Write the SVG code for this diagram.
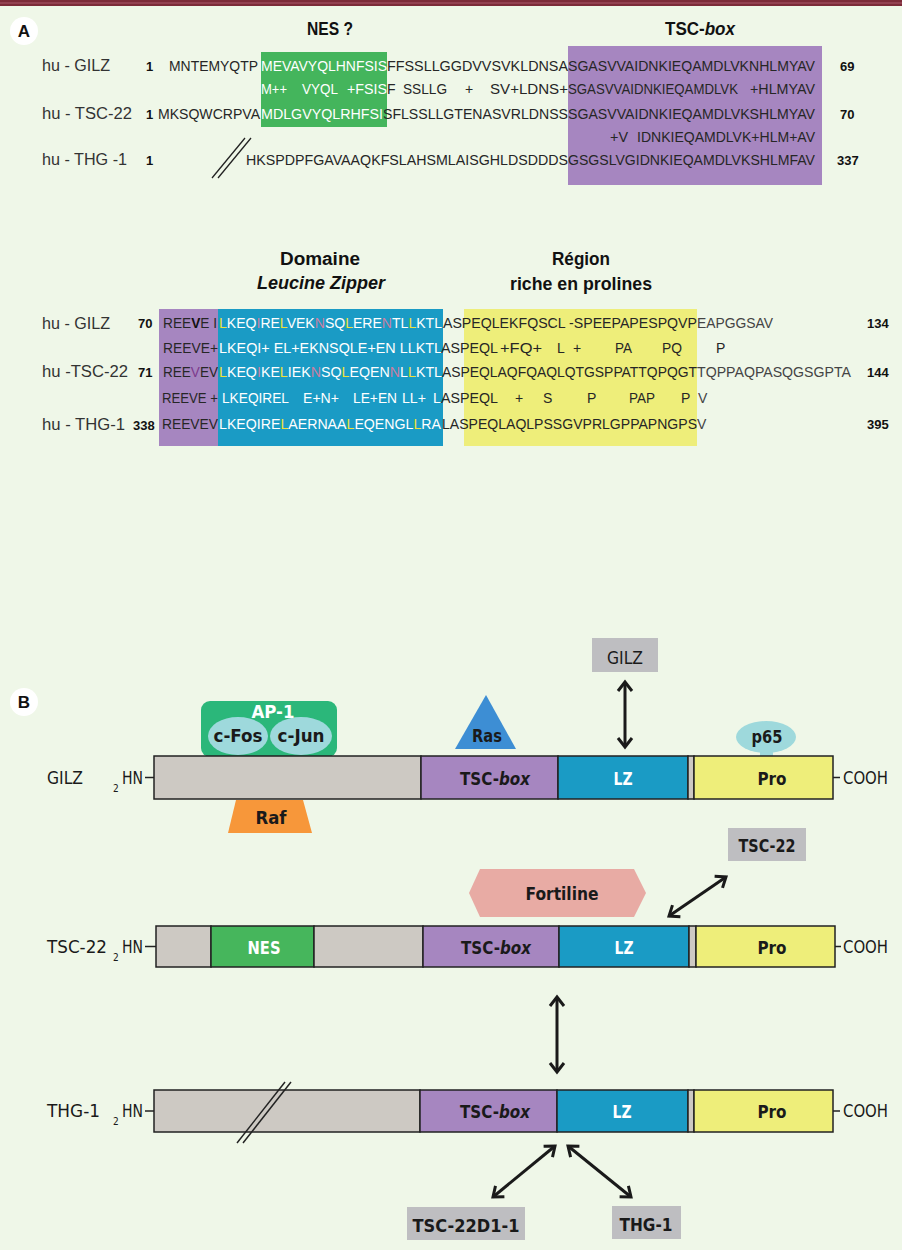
<svg xmlns="http://www.w3.org/2000/svg" width="902" height="1250" viewBox="0 0 902 1250">
<style>
.seq{font-family:'Liberation Sans',Arial,sans-serif;font-size:14px;fill:#262626}
.gy{fill:#444}
.w{fill:#fff}
.y{fill:#efe23a}
.p{fill:#c77fa2}
.num{font-family:'Liberation Sans',Arial,sans-serif;font-weight:bold;font-size:13px;fill:#111}
.lab{font-family:'Liberation Sans',Arial,sans-serif;font-size:16px;fill:#333}
.title{font-family:'Liberation Sans',Arial,sans-serif;font-weight:bold;font-size:18px;fill:#111;text-anchor:middle}
.bl{font-family:'Liberation Sans Narrow','DejaVu Sans Condensed',sans-serif;font-weight:bold;font-size:18px;fill:#1a1a1a;text-anchor:middle}
.rl{font-family:'Liberation Sans Narrow','DejaVu Sans Condensed',sans-serif;font-size:18px;fill:#1a1a1a}
.sub{font-family:'Liberation Sans Narrow','DejaVu Sans Condensed',sans-serif;font-size:10px;fill:#1a1a1a}
.seg{stroke:#222;stroke-width:1.5}
.g1{fill:#cdc9c3}.pu{fill:#a686c0}.bu{fill:#1a9bc5}.ye{fill:#eeee7a}.gr{fill:#46b65c}
.box{fill:#bebec1}
.arr{stroke:#1a1a1a;stroke-width:3;fill:none;marker-start:url(#ah);marker-end:url(#ah)}
.circ{fill:#fff}
.cl{font-family:'Liberation Sans',Arial,sans-serif;font-weight:bold;font-size:17px;fill:#111;text-anchor:middle}
</style>
<defs>
<marker id="ah" viewBox="0 0 12 16" refX="10" refY="8" markerWidth="12" markerHeight="16" markerUnits="userSpaceOnUse" orient="auto-start-reverse" overflow="visible">
<path d="M1,1 L10,8 L1,15" fill="none" stroke="#1a1a1a" stroke-width="3"/>
</marker>
</defs>
<rect x="0" y="0" width="902" height="1250" fill="#eff7e8"/>
<rect x="0" y="0" width="902" height="6" fill="#7c2b39"/>
<line x1="0" y1="3" x2="902" y2="3" stroke="#a9596a" stroke-width="1"/>

<!-- Panel A -->
<g id="panelA">
<circle class="circ" cx="24" cy="31" r="14"/>
<text class="cl" x="24" y="37">A</text>
<rect x="261" y="52" width="126" height="75" fill="#44b55c"/>
<rect x="568" y="46" width="254" height="139" fill="#a686c0"/>
<text class="title" x="330" y="35" textLength="46" lengthAdjust="spacingAndGlyphs">NES ?</text>
<text class="title" x="700" y="35" textLength="70" lengthAdjust="spacingAndGlyphs">TSC-<tspan font-style="italic">box</tspan></text>

<text class="lab" x="42" y="71" textLength="68" lengthAdjust="spacingAndGlyphs">hu - GILZ</text>
<text class="lab" x="42" y="118.5" textLength="90" lengthAdjust="spacingAndGlyphs">hu - TSC-22</text>
<text class="lab" x="42" y="165" textLength="85" lengthAdjust="spacingAndGlyphs">hu - THG -1</text>
<text class="num" x="146" y="71">1</text>
<text class="num" x="146" y="118.5">1</text>
<text class="num" x="146" y="165">1</text>
<text class="num" x="840" y="71">69</text>
<text class="num" x="840" y="118.5">70</text>
<text class="num" x="837" y="165">337</text>

<text class="seq" x="169" y="71" textLength="89" lengthAdjust="spacingAndGlyphs">MNTEMYQTP</text>
<text class="seq w" x="261" y="71" textLength="126" lengthAdjust="spacingAndGlyphs">MEVAVYQLHNFSIS</text>
<text class="seq" x="387" y="71" textLength="181" lengthAdjust="spacingAndGlyphs">FFSSLLGGDVVSVKLDNSA</text>
<text class="seq" x="568" y="71" textLength="247" lengthAdjust="spacingAndGlyphs">SGASVVAIDNKIEQAMDLVKNHLMYAV</text>

<text class="seq w" x="261" y="94" textLength="26" lengthAdjust="spacingAndGlyphs">M++</text>
<text class="seq w" x="302" y="94" textLength="36" lengthAdjust="spacingAndGlyphs">VYQL</text>
<text class="seq w" x="347" y="94" textLength="40" lengthAdjust="spacingAndGlyphs">+FSIS</text>
<text class="seq" x="387" y="94">F</text>
<text class="seq" x="403" y="94" textLength="44" lengthAdjust="spacingAndGlyphs">SSLLG</text>
<text class="seq" x="465" y="94">+</text>
<text class="seq" x="490" y="94" textLength="78" lengthAdjust="spacingAndGlyphs">SV+LDNS+</text>
<text class="seq" x="568" y="94" textLength="170" lengthAdjust="spacingAndGlyphs">SGASVVAIDNKIEQAMDLVK</text>
<text class="seq" x="750" y="94" textLength="65" lengthAdjust="spacingAndGlyphs">+HLMYAV</text>

<text class="seq" x="158" y="118.5" textLength="102" lengthAdjust="spacingAndGlyphs">MKSQWCRPVA</text>
<text class="seq w" x="261" y="118.5" textLength="122" lengthAdjust="spacingAndGlyphs">MDLGVYQLRHFSI</text>
<text class="seq" x="383" y="118.5" textLength="185" lengthAdjust="spacingAndGlyphs">SFLSSLLGTENASVRLDNSS</text>
<text class="seq" x="568" y="118.5" textLength="247" lengthAdjust="spacingAndGlyphs">SGASVVAIDNKIEQAMDLVKSHLMYAV</text>

<text class="seq" x="610" y="142" textLength="18" lengthAdjust="spacingAndGlyphs">+V</text>
<text class="seq" x="637" y="142" textLength="178" lengthAdjust="spacingAndGlyphs">IDNKIEQAMDLVK+HLM+AV</text>

<line x1="212" y1="178" x2="245" y2="138" stroke="#222" stroke-width="1.3"/>
<line x1="218" y1="178" x2="251" y2="138" stroke="#222" stroke-width="1.3"/>
<text class="seq" x="246" y="165" textLength="322" lengthAdjust="spacingAndGlyphs">HKSPDPFGAVAAQKFSLAHSMLAISGHLDSDDDS</text>
<text class="seq" x="568" y="165" textLength="247" lengthAdjust="spacingAndGlyphs">GSGSLVGIDNKIEQAMDLVKSHLMFAV</text>
</g>

<!-- Panel A, second block -->
<g id="panelA2">
<rect x="159" y="309" width="59" height="137" fill="#a686c0"/>
<rect x="218" y="309" width="225" height="137" fill="#1a9bc5"/>
<rect x="464" y="309" width="233" height="137" fill="#eeee7a"/>
<text class="title" x="320" y="265" textLength="80" lengthAdjust="spacingAndGlyphs">Domaine</text>
<text class="title" x="321" y="289" font-style="italic" textLength="128" lengthAdjust="spacingAndGlyphs">Leucine Zipper</text>
<text class="title" x="581" y="265" textLength="58" lengthAdjust="spacingAndGlyphs">Région</text>
<text class="title" x="581" y="290" textLength="142" lengthAdjust="spacingAndGlyphs">riche en prolines</text>

<text class="lab" x="42" y="329" textLength="68" lengthAdjust="spacingAndGlyphs">hu - GILZ</text>
<text class="lab" x="42" y="377" textLength="86" lengthAdjust="spacingAndGlyphs">hu -TSC-22</text>
<text class="lab" x="42" y="430" textLength="83" lengthAdjust="spacingAndGlyphs">hu - THG-1</text>
<text class="num" x="138" y="328">70</text>
<text class="num" x="138" y="377">71</text>
<text class="num" x="133" y="430">338</text>
<text class="num" x="867" y="328">134</text>
<text class="num" x="867" y="377">144</text>
<text class="num" x="867" y="429">395</text>

<!-- row 1 -->
<text class="seq" x="163" y="328" textLength="54" lengthAdjust="spacingAndGlyphs">REE<tspan font-weight="bold" fill="#111">V</tspan>E I</text>
<text class="seq w" x="219" y="328" textLength="223" lengthAdjust="spacingAndGlyphs"><tspan class="y">L</tspan>KEQ<tspan class="p">I</tspan>RE<tspan class="y">L</tspan>VEK<tspan class="p">N</tspan>SQ<tspan class="y">L</tspan>ERE<tspan class="p">N</tspan>TL<tspan class="y">L</tspan>KTL</text>
<text class="seq" x="443" y="328" textLength="254" lengthAdjust="spacingAndGlyphs">ASPEQLEKFQSCL -SPEEPAPESPQVP</text>
<text class="seq gy" x="697" y="328" textLength="76" lengthAdjust="spacingAndGlyphs">EAPGGSAV</text>
<!-- row 2 -->
<text class="seq" x="163" y="353" textLength="55" lengthAdjust="spacingAndGlyphs">REEVE+</text>
<text class="seq w" x="219" y="353" textLength="223" lengthAdjust="spacingAndGlyphs">LKEQI+ EL+EKNSQLE+EN LLKTL</text>
<text class="seq" x="441" y="353" textLength="57" lengthAdjust="spacingAndGlyphs">ASPEQL</text>
<text class="seq" x="500" y="353" textLength="42" lengthAdjust="spacingAndGlyphs">+FQ+</text>
<text class="seq" x="557" y="353">L</text>
<text class="seq" x="573" y="353">+</text>
<text class="seq" x="615" y="353" textLength="17" lengthAdjust="spacingAndGlyphs">PA</text>
<text class="seq" x="662" y="353" textLength="20" lengthAdjust="spacingAndGlyphs">PQ</text>
<text class="seq" x="716" y="353">P</text>
<!-- row 3 -->
<text class="seq" x="163" y="377" textLength="55" lengthAdjust="spacingAndGlyphs">REE<tspan fill="#7d3a8c">V</tspan>EV</text>
<text class="seq w" x="219" y="377" textLength="223" lengthAdjust="spacingAndGlyphs"><tspan class="y">L</tspan>KEQ<tspan class="p">I</tspan>KE<tspan class="y">L</tspan>IEK<tspan class="p">N</tspan>SQ<tspan class="y">L</tspan>EQEN<tspan class="p">N</tspan>L<tspan class="y">L</tspan>KTL</text>
<text class="seq" x="442" y="377" textLength="255" lengthAdjust="spacingAndGlyphs">ASPEQLAQFQAQLQTGSPPATTQPQGT</text>
<text class="seq gy" x="697" y="377" textLength="154" lengthAdjust="spacingAndGlyphs">TQPPAQPASQGSGPTA</text>
<!-- row 4 -->
<text class="seq" x="162" y="403" textLength="56" lengthAdjust="spacingAndGlyphs">REEVE +</text>
<text class="seq w" x="222" y="403" textLength="67" lengthAdjust="spacingAndGlyphs">LKEQIREL</text>
<text class="seq w" x="303" y="403" textLength="36" lengthAdjust="spacingAndGlyphs">E+N+</text>
<text class="seq w" x="353" y="403" textLength="44" lengthAdjust="spacingAndGlyphs">LE+EN</text>
<text class="seq w" x="402" y="403" textLength="24" lengthAdjust="spacingAndGlyphs">LL+</text>
<text class="seq w" x="433" y="403">L</text>
<text class="seq" x="441" y="403" textLength="57" lengthAdjust="spacingAndGlyphs">ASPEQL</text>
<text class="seq" x="515" y="403">+</text>
<text class="seq" x="543" y="403">S</text>
<text class="seq" x="587" y="403">P</text>
<text class="seq" x="629" y="403" textLength="26" lengthAdjust="spacingAndGlyphs">PAP</text>
<text class="seq" x="681" y="403">P</text>
<text class="seq gy" x="698" y="403">V</text>
<!-- row 5 -->
<text class="seq" x="162" y="429" textLength="56" lengthAdjust="spacingAndGlyphs">REEVEV</text>
<text class="seq w" x="219" y="429" textLength="222" lengthAdjust="spacingAndGlyphs">LKEQIRE<tspan class="y">L</tspan>AERNAA<tspan class="y">L</tspan>EQENGL<tspan class="y">L</tspan>RA</text>
<text class="seq" x="442" y="429" textLength="255" lengthAdjust="spacingAndGlyphs">LASPEQLAQLPSSGVPRLGPPAPNGPS</text>
<text class="seq gy" x="697" y="429">V</text>
</g>

<!-- Panel B -->
<g id="labelB">
<circle class="circ" cx="24" cy="702" r="14"/>
<text class="cl" x="24" y="708">B</text>
</g>

<g id="ap1">
<rect x="201" y="701" width="136" height="56" rx="9" fill="#2bb77a"/>
<ellipse cx="238" cy="736" rx="30" ry="19" fill="#9ed9dc"/>
<ellipse cx="301" cy="736" rx="31" ry="19" fill="#9ed9dc"/>
<text class="bl" x="273" y="718" style="fill:#fff" textLength="43" lengthAdjust="spacingAndGlyphs">AP-1</text>
<text class="bl" x="238" y="742" textLength="49" lengthAdjust="spacingAndGlyphs">c-Fos</text>
<text class="bl" x="301" y="742" textLength="47" lengthAdjust="spacingAndGlyphs">c-Jun</text>
</g>

<g id="ras">
<polygon points="486,695 516,749 455,749" fill="#3d8ed4"/>
<text class="bl" x="487" y="742" textLength="30" lengthAdjust="spacingAndGlyphs">Ras</text>
</g>

<g id="p65">
<rect x="760" y="750" width="13" height="7" fill="#9ed9dc"/>
<ellipse cx="766" cy="737" rx="30" ry="16" fill="#9ed9dc"/>
<text class="bl" x="767" y="743" textLength="31" lengthAdjust="spacingAndGlyphs">p65</text>
</g>

<g id="gilz-box">
<rect class="box" x="592" y="638" width="66" height="34"/>
<text class="rl" x="625" y="664" text-anchor="middle" textLength="36" lengthAdjust="spacingAndGlyphs">GILZ</text>
</g>

<g id="gilz">
<text class="rl" x="47" y="784" textLength="36" lengthAdjust="spacingAndGlyphs">GILZ</text>
<text class="sub" x="113" y="792">2</text>
<text class="rl" x="122" y="784" textLength="21" lengthAdjust="spacingAndGlyphs">HN</text>
<line x1="145" y1="777.5" x2="154" y2="777.5" stroke="#222" stroke-width="1.5"/>
<rect class="seg g1" x="154" y="756" width="267" height="43"/>
<rect class="seg pu" x="421" y="756" width="137" height="43"/>
<rect class="seg bu" x="558" y="756" width="130" height="43"/>
<rect class="seg g1" x="688" y="756" width="6" height="43"/>
<rect class="seg ye" x="694" y="756" width="139" height="43"/>
<text class="bl" x="495" y="785" textLength="70" lengthAdjust="spacingAndGlyphs">TSC-<tspan font-style="italic">box</tspan></text>
<text class="bl" x="623" y="785" style="fill:#fff" textLength="19" lengthAdjust="spacingAndGlyphs">LZ</text>
<text class="bl" x="772" y="785" textLength="29" lengthAdjust="spacingAndGlyphs">Pro</text>
<line x1="833" y1="777.5" x2="840" y2="777.5" stroke="#222" stroke-width="1.5"/>
<text class="rl" x="843" y="784" textLength="45" lengthAdjust="spacingAndGlyphs">COOH</text>
</g>

<g id="raf">
<polygon points="236,800 303,800 312,833 228,833" fill="#f7973a"/>
<text class="bl" x="271" y="824" textLength="31" lengthAdjust="spacingAndGlyphs">Raf</text>
</g>

<g id="tsc22-box">
<rect class="box" x="728" y="828" width="78" height="33"/>
<text class="bl" x="767" y="852" textLength="57" lengthAdjust="spacingAndGlyphs">TSC-22</text>
</g>

<g id="fortiline">
<polygon points="469,893 480,869 634,869 646,893 634,917 480,917" fill="#e8aba4"/>
<text class="bl" x="562" y="900" textLength="73" lengthAdjust="spacingAndGlyphs">Fortiline</text>
</g>

<g id="tsc22">
<text class="rl" x="47" y="953" textLength="60" lengthAdjust="spacingAndGlyphs">TSC-22</text>
<text class="sub" x="113" y="961">2</text>
<text class="rl" x="122" y="953" textLength="21" lengthAdjust="spacingAndGlyphs">HN</text>
<line x1="145" y1="946.5" x2="156" y2="946.5" stroke="#222" stroke-width="1.5"/>
<rect class="seg g1" x="156" y="926" width="55" height="41"/>
<rect class="seg gr" x="211" y="926" width="103" height="41"/>
<rect class="seg g1" x="314" y="926" width="109" height="41"/>
<rect class="seg pu" x="423" y="926" width="136" height="41"/>
<rect class="seg bu" x="559" y="926" width="130" height="41"/>
<rect class="seg g1" x="689" y="926" width="7" height="41"/>
<rect class="seg ye" x="696" y="926" width="139" height="41"/>
<text class="bl" x="264" y="954" style="fill:#fff" textLength="33" lengthAdjust="spacingAndGlyphs">NES</text>
<text class="bl" x="496" y="954" textLength="70" lengthAdjust="spacingAndGlyphs">TSC-<tspan font-style="italic">box</tspan></text>
<text class="bl" x="624" y="954" style="fill:#fff" textLength="19" lengthAdjust="spacingAndGlyphs">LZ</text>
<text class="bl" x="772" y="954" textLength="29" lengthAdjust="spacingAndGlyphs">Pro</text>
<line x1="835" y1="946.5" x2="841" y2="946.5" stroke="#222" stroke-width="1.5"/>
<text class="rl" x="843" y="953" textLength="45" lengthAdjust="spacingAndGlyphs">COOH</text>
</g>

<g id="thg1">
<text class="rl" x="47" y="1117" textLength="53" lengthAdjust="spacingAndGlyphs">THG-1</text>
<text class="sub" x="113" y="1125">2</text>
<text class="rl" x="122" y="1117" textLength="21" lengthAdjust="spacingAndGlyphs">HN</text>
<line x1="145" y1="1111" x2="154" y2="1111" stroke="#222" stroke-width="1.5"/>
<rect class="seg g1" x="154" y="1090" width="266" height="42"/>
<rect class="seg pu" x="420" y="1090" width="137" height="42"/>
<rect class="seg bu" x="557" y="1090" width="131" height="42"/>
<rect class="seg g1" x="688" y="1090" width="6" height="42"/>
<rect class="seg ye" x="694" y="1090" width="139" height="42"/>
<line x1="237" y1="1143" x2="285" y2="1082" stroke="#222" stroke-width="1.5"/>
<line x1="243" y1="1143" x2="291" y2="1082" stroke="#222" stroke-width="1.5"/>
<text class="bl" x="495" y="1118" textLength="70" lengthAdjust="spacingAndGlyphs">TSC-<tspan font-style="italic">box</tspan></text>
<text class="bl" x="622" y="1118" style="fill:#fff" textLength="19" lengthAdjust="spacingAndGlyphs">LZ</text>
<text class="bl" x="772" y="1118" textLength="29" lengthAdjust="spacingAndGlyphs">Pro</text>
<line x1="833" y1="1111" x2="840" y2="1111" stroke="#222" stroke-width="1.5"/>
<text class="rl" x="843" y="1117" textLength="45" lengthAdjust="spacingAndGlyphs">COOH</text>
</g>

<g id="tsc22d1-box">
<rect class="box" x="407" y="1207" width="118" height="33"/>
<text class="bl" x="466" y="1232" textLength="107" lengthAdjust="spacingAndGlyphs">TSC-22D1-1</text>
</g>

<g id="thg1-box">
<rect class="box" x="612" y="1206" width="69" height="33"/>
<text class="bl" x="646" y="1231" textLength="53" lengthAdjust="spacingAndGlyphs">THG-1</text>
</g>

<g id="connectors">
<line class="arr" x1="625" y1="682" x2="625" y2="747"/>
<line class="arr" x1="669" y1="916" x2="726" y2="877"/>
<line class="arr" x1="557" y1="997" x2="557" y2="1072"/>
<line class="arr" x1="555" y1="1146" x2="493" y2="1197"/>
<line class="arr" x1="568" y1="1146" x2="631" y2="1197"/>
</g>
</svg>
